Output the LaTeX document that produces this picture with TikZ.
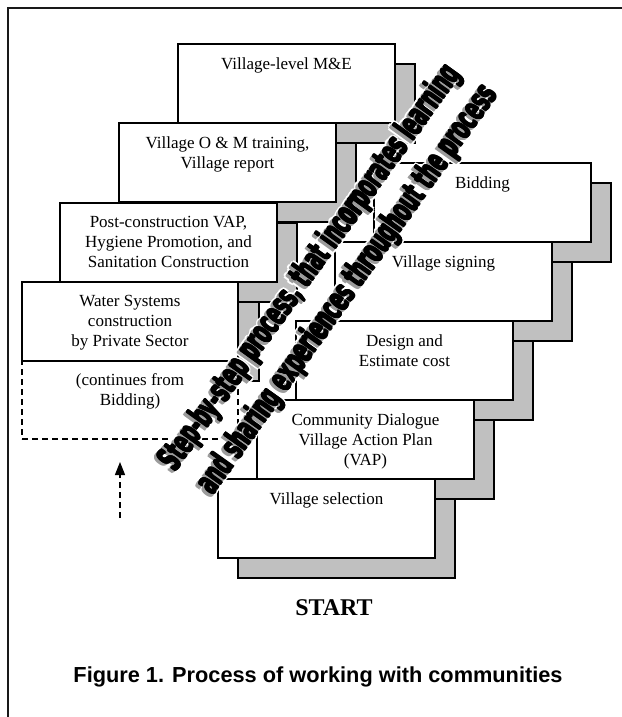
\documentclass[tikz,border=0pt]{standalone}
\usepackage{fontspec}
\setmainfont{Liberation Serif}
\newfontfamily\capfont{Liberation Sans}
\newfontfamily\diagfont{DejaVu Sans}
\usetikzlibrary{arrows.meta}
\definecolor{shadowgray}{HTML}{C0C0C0}
\definecolor{textshadow}{HTML}{9C9C9C}
\tikzset{
  stepbox/.style={draw, line width=2.5pt, fill=white, minimum width=217pt, minimum height=79pt,
    inner sep=0pt, outer sep=0pt, anchor=north west},
  shadowbox/.style={draw, line width=2.5pt, fill=shadowgray},
  steptext/.style={font=\fontsize{17}{20}\selectfont, align=center, inner sep=0pt, anchor=north},
  dashbox/.style={draw, line width=1.1pt, dash pattern=on 6pt off 4pt, fill=white,
    minimum width=216pt, minimum height=79pt, inner sep=0pt, outer sep=0pt, anchor=north west},
  diagtxt/.style={inner sep=0pt, anchor=center, rotate=#1, font=\diagfont\bfseries},
  frameline/.style={line width=2.6pt, draw=black!90},
}
% name, left, top, text
\newcommand\stepunit[4]{%
  \draw[shadowbox] ({#2+20},{-(#3)-20}) rectangle ++(217,-79);
  \node[stepbox] (#1) at (#2,-#3) {};
  \node[steptext] (#1-t) at ([yshift=-13.4pt]#1.north) {#4};
}
% name, cx, cy, angle, width, text
\newcommand\diagline[6]{%
  \foreach \a in {0,45,...,315}{%
    \node[diagtxt=#4, text=white] at ({#2+2.4*cos(\a)},{-(#3)+2.4*sin(\a)}) {\resizebox{#5pt}{26pt}{#6}};
    \node[diagtxt=#4, text=white] at ({#2-2.6+2.4*cos(\a)},{-(#3)-2.6+2.4*sin(\a)}) {\resizebox{#5pt}{26pt}{#6}};
  }
  \foreach \a in {0,90,180,270}{%
    \node[diagtxt=#4, text=textshadow] at ({#2-2.6+0.6*cos(\a)},{-(#3)-2.6+0.6*sin(\a)}) {\resizebox{#5pt}{26pt}{#6}};
  }
  \foreach \a in {0,60,...,300}{%
    \node[diagtxt=#4, text=black] at ({#2+0.7*cos(\a)},{-(#3)+0.7*sin(\a)}) {\resizebox{#5pt}{26pt}{#6}};
  }
  \node[diagtxt=#4, text=black] (#1) at (#2,-#3) {\resizebox{#5pt}{26pt}{#6}};
}
\begin{document}
\begin{tikzpicture}[x=1pt,y=1pt]
\useasboundingbox (0,0) rectangle (621,-717);
\fill[white] (0,0) rectangle (621,-717);
% frame
\coordinate (fbl) at (8,-730);
\coordinate (ftl) at (8,-8);
\coordinate (ftr) at (640,-8);
\draw[frameline] (fbl) -- (ftl) -- (ftr);

% right stack (top to bottom)
\stepunit{bid}{374}{163}{Bidding}
\stepunit{sign}{335}{242}{Village signing}
\stepunit{design}{296}{321}{Design and\\Estimate cost}
\stepunit{comm}{257}{400}{Community Dialogue\\Village Action Plan\\(VAP)}
\stepunit{sel}{218}{479}{Village selection}

% left stack (top to bottom)
\stepunit{me}{178}{44}{Village-level M\&E}
\stepunit{om}{119}{123}{Village O \& M training,\\Village report}
\stepunit{post}{60}{203}{Post-construction VAP,\\Hygiene Promotion, and\\Sanitation Construction}
\draw[shadowbox] (42,-302) rectangle ++(217,-79);
\node[dashbox] (cont) at (22,-360) {};
\node[steptext] (cont-t) at ([yshift=-13.4pt]cont.north) {(continues from\\Bidding)};
\node[stepbox, minimum width=216pt] (water) at (22,-282) {};
\node[steptext] (water-t) at ([yshift=-13.4pt]water.north) {Water Systems\\construction\\by Private Sector};

% diagonal text
\diagline{diagA}{311}{268}{54.3}{490}{Step-by-step process, that incorporates learning}
\diagline{diagB}{348}{290}{54.6}{492}{and sharing experiences throughout the process}

% dashed arrow
\coordinate (arrbot) at (120,-518);
\coordinate (arrtop) at (120,-462);
\draw[line width=1.2pt, dash pattern=on 6pt off 4pt, -{Triangle[width=10pt,length=13pt]}] (arrbot) -- (arrtop);

% labels
\node[font=\fontsize{24}{24}\selectfont\bfseries, inner sep=0pt] (start) at (334,-608) {START};
\node[inner sep=0pt] (cap) at (318,-677) {\resizebox{489pt}{!}{\capfont\bfseries\fontsize{18}{18}\selectfont Figure 1. Process of working with communities}};
\end{tikzpicture}
\end{document}
